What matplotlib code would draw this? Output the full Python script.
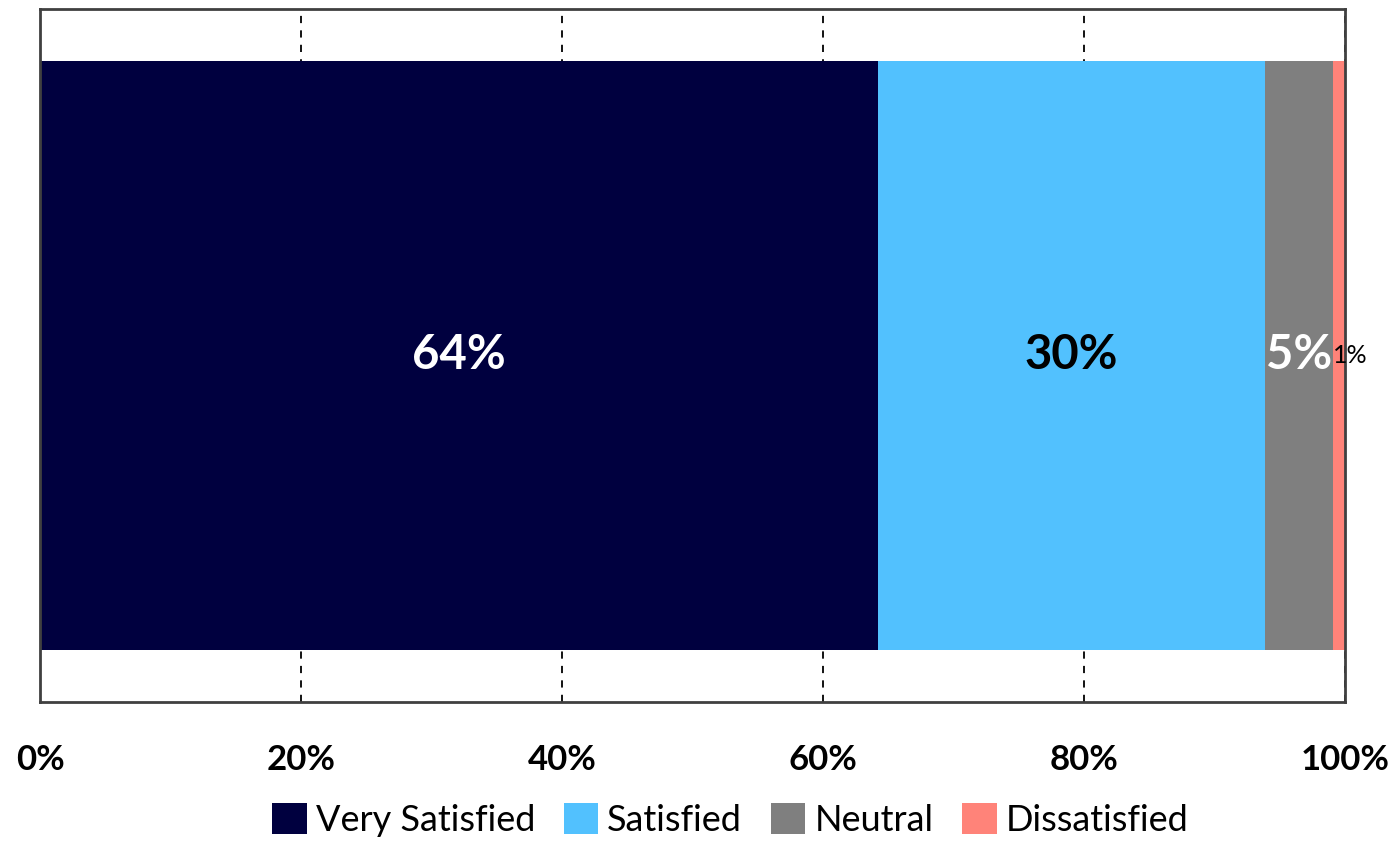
import matplotlib.pyplot as plt
import matplotlib.ticker as mticker

plt.rcParams["font.family"] = ["Lato", "DejaVu Sans"]

categories = ["Very Satisfied", "Satisfied", "Neutral", "Dissatisfied"]
values = [64.2, 29.7, 5.2, 0.9]
labels = ["64%", "30%", "5%", "1%"]
colors = ["#00003F", "#52C1FE", "#7F7F7F", "#FF8379"]
label_colors = ["white", "black", "white", "black"]
xticks = [0, 20, 40, 60, 80, 100]

fig = plt.figure(figsize=(13.99, 8.42), dpi=100)
ax = fig.add_axes([0.0286, 0.1663, 0.9328, 0.823])

left = 0
for i, (cat, val) in enumerate(zip(categories, values)):
    ax.barh(0, val, left=left, height=0.85, color=colors[i], label=cat, zorder=2)
    if i == 3:
        # tiny slice: put the label just after the neutral text
        ax.text(left, 0, labels[i], ha="left", va="center",
                color=label_colors[i], fontsize=18, zorder=3)
    else:
        ax.text(left + val / 2, 0, labels[i], ha="center", va="center",
                color=label_colors[i], fontsize=34, fontweight="bold", zorder=3)
    left += val

ax.set_xlim(0, 100)
ax.set_ylim(-0.5, 0.5)
ax.set_yticks([])
ax.set_xticks(xticks)
ax.xaxis.set_major_formatter(mticker.FuncFormatter(lambda v, p: f"{v:.0f}%"))
ax.tick_params(axis="x", length=0, pad=30, labelsize=25)
for lbl in ax.get_xticklabels():
    lbl.set_fontweight("bold")
ax.grid(axis="x", color="black", linestyle=(0, (4, 4)), linewidth=1.3, zorder=1)
for s in ax.spines.values():
    s.set_color("#404040")
    s.set_linewidth(2)

fig.legend(loc="center", bbox_to_anchor=(0.522, 0.026), ncol=4, frameon=False,
           fontsize=26, handlelength=0.95, handleheight=0.95, handletextpad=0.25,
           columnspacing=0.8, borderaxespad=0)

fig.savefig("out.png", dpi=100)
